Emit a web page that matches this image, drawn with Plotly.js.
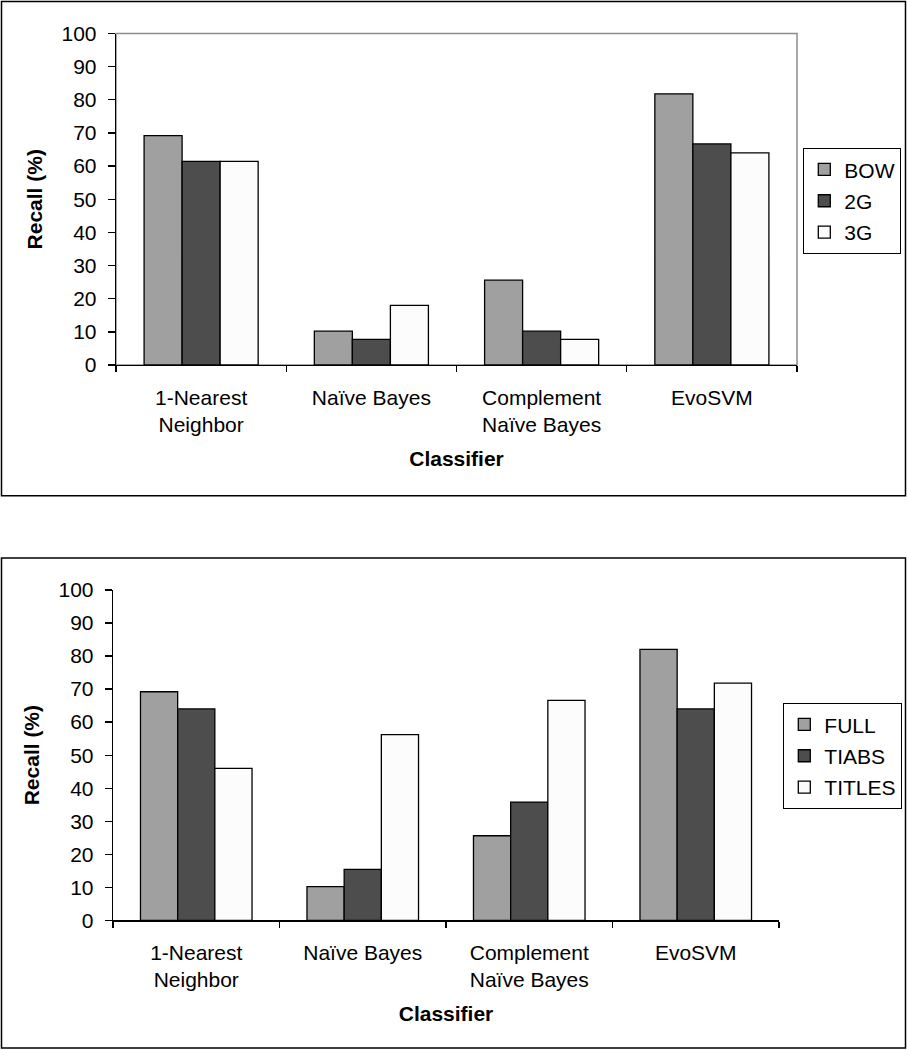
<!DOCTYPE html>
<html>
<head>
<meta charset="utf-8">
<script src="https://cdn.plot.ly/plotly-3.0.1.min.js"></script>
<style>html,body{margin:0;padding:0;background:#fff;}#chart{width:907px;height:1050px;}</style>
</head>
<body>
<div id="chart"></div>
<script>
const categories = ["1-Nearest<br>Neighbor", "Naïve Bayes", "Complement<br>Naïve Bayes", "EvoSVM"];

// Top chart: feature representation
const topSeriesNames = ["BOW", "2G", "3G"];
const topBOW = [69.2, 10.2, 25.6, 81.8];
const top2G  = [61.4, 7.7, 10.2, 66.7];
const top3G  = [61.4, 18.0, 7.7, 64.0];

// Bottom chart: document part
const bottomSeriesNames = ["FULL", "TIABS", "TITLES"];
const bottomFULL   = [69.2, 10.2, 25.6, 82.0];
const bottomTIABS  = [64.0, 15.4, 35.8, 64.0];
const bottomTITLES = [46.0, 56.2, 66.6, 71.8];

const yTickVals = [0, 10, 20, 30, 40, 50, 60, 70, 80, 90, 100];

const colors = ["#a0a0a0", "#4d4d4d", "#fcfcfc"];
const FONT = "Liberation Sans, Arial, sans-serif";
const FS = 21;
const W = 907, H = 1050;

function bar(name, y, i, xa, ya, legend) {
  return {
    type: "bar", name: name, x: categories, y: y,
    xaxis: xa, yaxis: ya, legend: legend, legendgroup: legend + name,
    marker: {color: colors[i], line: {color: "#000", width: 1.3}},
    hoverinfo: "y+name"
  };
}

const data = [
  bar(topSeriesNames[0], topBOW, 0, "x", "y", "legend"),
  bar(topSeriesNames[1], top2G, 1, "x", "y", "legend"),
  bar(topSeriesNames[2], top3G, 2, "x", "y", "legend"),
  bar(bottomSeriesNames[0], bottomFULL, 0, "x2", "y2", "legend2"),
  bar(bottomSeriesNames[1], bottomTIABS, 1, "x2", "y2", "legend2"),
  bar(bottomSeriesNames[2], bottomTITLES, 2, "x2", "y2", "legend2")
];

function xaxisCfg(dom, anchor) {
  return {
    domain: dom, anchor: anchor, type: "category",
    showline: true, linecolor: "#000", linewidth: 1.3,
    ticks: "outside", ticklen: 6, tickcolor: "#000", tickwidth: 1.3,
    tickson: "boundaries", ticklabelstandoff: 13,
    tickfont: {family: FONT, size: FS, color: "#000"},
    showgrid: false, zeroline: false, fixedrange: true,
    title: {text: "<b>Classifier</b>", font: {family: FONT, size: FS, color: "#000"}, standoff: 16}
  };
}
function yaxisCfg(dom, anchor) {
  return {
    domain: dom, anchor: anchor, range: [0, 100],
    tickvals: yTickVals, ticktext: yTickVals.map(String),
    showline: true, linecolor: "#000", linewidth: 1.3,
    ticks: "outside", ticklen: 7, tickcolor: "#000", tickwidth: 1.3,
    ticklabelstandoff: 7,
    tickfont: {family: FONT, size: FS, color: "#000"},
    showgrid: false, zeroline: false, fixedrange: true,
    title: {text: "<b>Recall (%)</b>", font: {family: FONT, size: FS, color: "#000"}, standoff: 13}
  };
}

const layout = {
  width: W, height: H,
  margin: {l: 0, r: 0, t: 0, b: 0, pad: 0},
  paper_bgcolor: "#fff", plot_bgcolor: "#fff",
  barmode: "group", bargap: 0.33, bargroupgap: 0,
  font: {family: FONT, size: FS, color: "#000"},
  xaxis: xaxisCfg([116/W, 797/W], "y"),
  yaxis: yaxisCfg([1 - 365/H, 1 - 33.5/H], "x"),
  xaxis2: xaxisCfg([113/W, 779/W], "y2"),
  yaxis2: yaxisCfg([1 - 920.3/H, 1 - 590/H], "x2"),
  legend: {
    x: 803/W, y: 1 - 148/H, xanchor: "left", yanchor: "top",
    bgcolor: "#fff", bordercolor: "#000", borderwidth: 1.3,
    font: {family: FONT, size: FS, color: "#000"},
    tracegroupgap: 1, itemwidth: 30
  },
  legend2: {
    x: 783/W, y: 1 - 703/H, xanchor: "left", yanchor: "top",
    bgcolor: "#fff", bordercolor: "#000", borderwidth: 1.3,
    font: {family: FONT, size: FS, color: "#000"},
    tracegroupgap: 1, itemwidth: 30
  },
  shapes: [
    // gray plot-area border of the top chart
    {type: "rect", xref: "x domain", yref: "y domain", x0: 0, x1: 1, y0: 0, y1: 1,
     line: {color: "#8c8c8c", width: 1.5}, layer: "below"},
    // outer frames
    {type: "rect", xref: "paper", yref: "paper", x0: 1.5/W, x1: 905.5/W, y0: 1 - 495.7/H, y1: 1 - 1.5/H,
     line: {color: "#000", width: 1.5}},
    {type: "rect", xref: "paper", yref: "paper", x0: 1.5/W, x1: 905.5/W, y0: 1 - 1048/H, y1: 1 - 558/H,
     line: {color: "#000", width: 1.5}}
  ],
  showlegend: true
};

Plotly.newPlot("chart", data, layout, {displayModeBar: false, staticPlot: true});
</script>
</body>
</html>
